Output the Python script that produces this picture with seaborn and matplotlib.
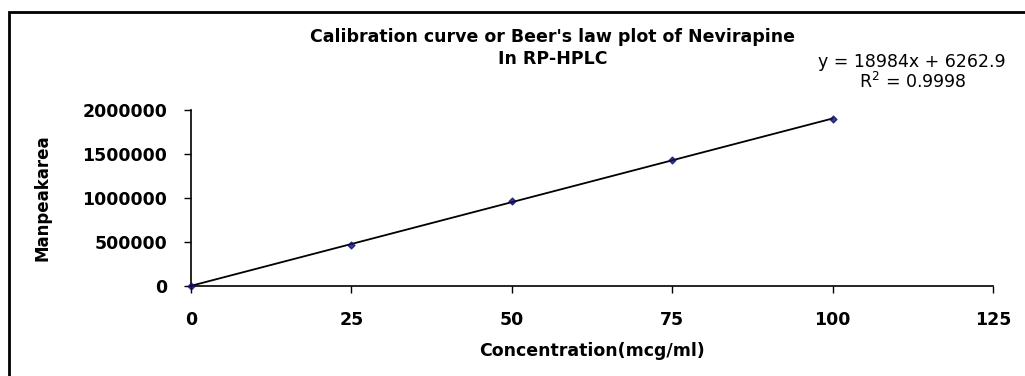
import matplotlib
matplotlib.use("Agg")
import matplotlib.pyplot as plt
import seaborn as sns
import numpy as np
import pandas as pd
from matplotlib.patches import Rectangle

concentration = [0, 25, 50, 75, 100]
peak_area = [2000, 470000, 962000, 1432000, 1898000]
x_ticks = [0, 25, 50, 75, 100, 125]
y_ticks = [0, 500000, 1000000, 1500000, 2000000]

title_text = "Calibration curve or Beer's law plot of Nevirapine\nIn RP-HPLC"
eq_line1 = "y = 18984x + 6262.9"
eq_line2 = "R$^2$ = 0.9998"
x_label = "Concentration(mcg/ml)"
y_label = "Manpeakarea"

sns.set_theme(style="white")
plt.rcParams['font.family'] = ['DejaVu Sans']
plt.rcParams['text.color'] = 'black'
plt.rcParams['axes.labelcolor'] = 'black'
plt.rcParams['xtick.color'] = 'black'
plt.rcParams['ytick.color'] = 'black'

df = pd.DataFrame({"conc": concentration, "area": peak_area})

fig = plt.figure(figsize=(10.25, 3.76), dpi=100)
ax = fig.add_axes([191/1025, 1-286/376, (993-191)/1025, (286-110)/376])

sns.regplot(data=df, x="conc", y="area", ax=ax, ci=None,
            marker="D", scatter_kws=dict(s=12, color="#10106a", zorder=3, clip_on=False),
            line_kws=dict(color="black", lw=1.3))

ax.set_xlim(0, 125)
ax.set_ylim(0, 2000000)
ax.set_xticks(x_ticks)
ax.set_yticks(y_ticks)
ax.set_xticklabels([str(v) for v in x_ticks], fontsize=12.5, fontweight="bold")
ax.set_yticklabels([str(v) for v in y_ticks], fontsize=12.5, fontweight="bold")
ax.tick_params(axis="x", direction="out", length=5, width=1, color="black",
               bottom=True, pad=13)
ax.tick_params(axis="y", direction="out", length=5, width=1, color="black",
               left=True, pad=12)
for s in ["top", "right"]:
    ax.spines[s].set_visible(False)
for s in ["left", "bottom"]:
    ax.spines[s].set_color("black")
    ax.spines[s].set_linewidth(1.2)
ax.set_xlabel(x_label, fontsize=12.5, fontweight="bold", labelpad=9)
ax.set_ylabel(y_label, fontsize=12, fontweight="bold", labelpad=22)

fig.text(553/1025, 1-48/376, title_text, ha="center", va="center",
         fontsize=12.5, fontweight="bold", linespacing=1.3)
fig.text(912/1025, 1-62/376, eq_line1, ha="center", va="center", fontsize=12.5)
fig.text(913/1025, 1-82/376, eq_line2, ha="center", va="center", fontsize=12.5)

fig.patches.append(Rectangle((9/1025, -0.05), 1.1, 1 - 12/376 + 0.05,
                             transform=fig.transFigure, fill=False,
                             edgecolor="black", lw=2))

fig.savefig("out.png", dpi=100)
